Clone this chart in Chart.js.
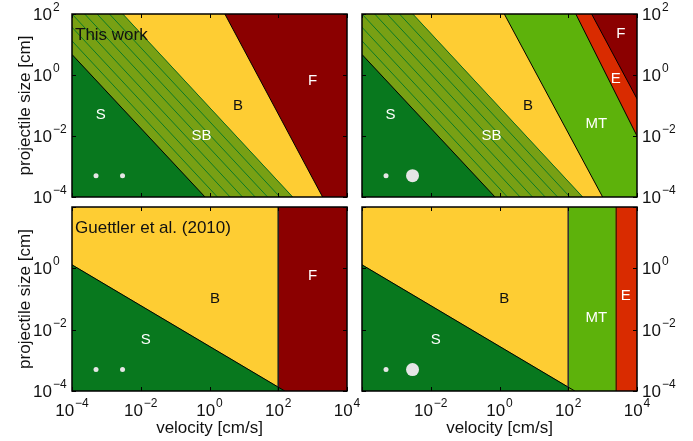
<!DOCTYPE html>
<html>
<head>
<meta charset="utf-8">
<script src="https://cdn.jsdelivr.net/npm/chart.js@4/dist/chart.umd.min.js"></script>
<style>
  html, body { margin: 0; padding: 0; background: #fff; }
  #wrap { position: relative; width: 693px; height: 441px; }
  #wrap canvas { position: absolute; left: 0; top: 0; }
</style>
</head>
<body>
<div id="wrap">
  <canvas id="tl" width="693" height="441"></canvas>
  <canvas id="tr" width="693" height="441"></canvas>
  <canvas id="bl" width="693" height="441"></canvas>
  <canvas id="br" width="693" height="441"></canvas>
</div>
<script>
// axis ranges and tick exponents
const xRange = [1e-4, 1e4];
const yRange = [1e-4, 1e2];
const xTickExp = [-4, -2, 0, 2, 4];
const yTickExp = [-4, -2, 0, 2];

// "This work" boundaries, end points [velocity, size]
const twS = [[1e-4, 4.7], [0.74, 1e-4]];
const twSB = [[3.0e-3, 1e2], [263, 1e-4]];
const twBF = [[2.8, 1e2], [1950, 1e-4]];
const twBMT = [[1.38, 1e2], [1000, 1e-4]];
const twMTE = [[166, 1e2], [1e4, 1e-2]];
const twEF = [[479, 1e2], [1e4, 0.166]];
// hatch lines inside SB: velocity where they cross size = 1e2 and size = 1e-4
const hatchTop = [1.86e-5, 4.37e-5, 1e-4, 2.34e-4, 5.37e-4, 1.23e-3];
const hatchBottom = [1.7, 3.98, 9.12, 21.4, 49, 112];

// Guettler et al. (2010) boundaries
const gS = [[1e-4, 1.3], [155, 1e-4]];
const gBF = 100;
const gMT = 100;
const gE = 2500;

// projectile markers
const dotX = [5e-4, 2.95e-3];
const dotY = [5e-4, 5e-4];
const dotSmall = [2.5, 2.5];
const dotBig = [2.5, 6.5];

// region labels [text, velocity, size]
const tlLabels = [['S', 6.9e-4, 0.05], ['SB', 0.59, 9.8e-3], ['B', 6.8, 0.1], ['F', 1000, 0.65]];
const trLabels = [['S', 6.8e-4, 0.05], ['SB', 0.59, 0.01], ['B', 6.8, 0.1], ['MT', 660, 0.025], ['E', 2400, 0.76], ['F', 3400, 22]];
const blLabels = [['S', 0.014, 4.7e-3], ['B', 1.45, 0.1], ['F', 1000, 0.58]];
const brLabels = [['S', 0.014, 4.7e-3], ['B', 1.38, 0.1], ['MT', 660, 0.025], ['E', 4700, 0.13]];

const cS = '#08781e', cSB = '#78a014', cB = '#fecd33', cF = '#8b0000',
      cMT = '#5db20b', cE = '#d92b00', cHatch = '#0c7a26';
const FONT = '"Liberation Sans", Arial, Helvetica, sans-serif';

function pts(arr) { return arr.map(p => ({x: p[0], y: p[1]})); }
function poly(arr, color) {
  return {data: pts(arr), showLine: true, fill: 'shape', backgroundColor: color,
          borderColor: color, borderWidth: 0.5, pointRadius: 0};
}
function seg(arr, color, w) {
  return {data: pts(arr), showLine: true, fill: false, borderColor: color,
          borderWidth: w || 1, pointRadius: 0};
}
function dots(radii) {
  return {data: dotX.map((x, i) => ({x: x, y: dotY[i]})), showLine: false,
          pointRadius: radii, pointBackgroundColor: '#e6e6e6', pointBorderWidth: 0};
}
const X0 = xRange[0], X1 = xRange[1], Y0 = yRange[0], Y1 = yRange[1];
const full = [[X0, Y1], [X1, Y1], [X1, Y0], [X0, Y0]];

function thisWorkBase() {
  return [
    poly([[X0, Y1], twSB[0], twSB[1], twS[1], twS[0]], cSB),
    ...hatchTop.map((t, i) => seg([[t, Y1], [hatchBottom[i], Y0]], cHatch, 1)),
    poly([twS[0], twS[1], [X0, Y0]], cS),
    seg(twS, '#000', 1),
    seg(twSB, '#0a6a20', 1)
  ];
}

const tlSets = [
  poly(full, cB),
  poly([twBF[0], [X1, Y1], [X1, Y0], twBF[1]], cF),
  ...thisWorkBase(),
  seg(twBF, '#000', 1),
  dots(dotSmall)
];
const trSets = [
  poly(full, cB),
  poly([twBMT[0], [X1, Y1], [X1, Y0], twBMT[1]], cMT),
  poly([twMTE[0], [X1, Y1], twMTE[1]], cE),
  poly([twEF[0], [X1, Y1], twEF[1]], cF),
  ...thisWorkBase(),
  seg(twBMT, '#000', 1),
  seg(twMTE, '#000', 1),
  seg(twEF, '#000', 1),
  dots(dotBig)
];
const blSets = [
  poly(full, cB),
  poly([[gBF, Y1], [X1, Y1], [X1, Y0], [gBF, Y0]], cF),
  poly([gS[0], gS[1], [X0, Y0]], cS),
  seg(gS, '#000', 1),
  seg([[gBF, Y1], [gBF, Y0]], '#222', 1),
  dots(dotSmall)
];
const brSets = [
  poly(full, cB),
  poly([gS[0], gS[1], [X0, Y0]], cS),
  poly([[gMT, Y1], [gE, Y1], [gE, Y0], [gMT, Y0]], cMT),
  poly([[gE, Y1], [X1, Y1], [X1, Y0], [gE, Y0]], cE),
  seg(gS, '#000', 1),
  seg([[gMT, Y1], [gMT, Y0]], '#333', 1),
  seg([[gE, Y1], [gE, Y0]], '#5a1a00', 1),
  dots(dotBig)
];

// "10" with a raised exponent
function drawPow(ctx, e, x, y, align) {
  const base = '10', sup = e < 0 ? '\u2212' + (-e) : String(e);
  ctx.font = '17px ' + FONT;
  const wb = ctx.measureText(base).width;
  ctx.font = '12px ' + FONT;
  const ws = ctx.measureText(sup).width;
  let x0 = x;
  if (align === 'center') x0 = x - (wb + ws + 1) / 2;
  else if (align === 'baseRight') x0 = x - wb;
  ctx.textAlign = 'left';
  ctx.textBaseline = 'alphabetic';
  ctx.font = '17px ' + FONT;
  ctx.fillText(base, x0, y);
  ctx.font = '12px ' + FONT;
  ctx.fillText(sup, x0 + wb + 1, y - 9);
}

const panelDeco = {
  id: 'panelDeco',
  afterDraw(chart, args, o) {
    const {ctx, chartArea: a} = chart;
    const sx = chart.scales.x, sy = chart.scales.y;
    ctx.save();
    // region labels
    ctx.font = '15px ' + FONT;
    ctx.textAlign = 'center';
    ctx.textBaseline = 'middle';
    o.labels.forEach(l => {
      ctx.fillStyle = l[0] === 'B' ? '#111' : '#fff';
      ctx.fillText(l[0], sx.getPixelForValue(l[1]), sy.getPixelForValue(l[2]));
    });
    if (o.title) {
      ctx.fillStyle = '#111';
      ctx.font = '17px ' + FONT;
      ctx.textAlign = 'left';
      ctx.fillText(o.title, a.left + 3, a.top + 21);
    }
    // frame and inward ticks
    ctx.strokeStyle = '#000';
    ctx.lineWidth = 1.5;
    ctx.strokeRect(a.left, a.top, a.right - a.left, a.bottom - a.top);
    ctx.lineWidth = 1;
    xTickExp.forEach(e => {
      const px = Math.round(sx.getPixelForValue(Math.pow(10, e))) + 0.5;
      ctx.beginPath();
      ctx.moveTo(px, a.bottom); ctx.lineTo(px, a.bottom - 4);
      ctx.moveTo(px, a.top); ctx.lineTo(px, a.top + 4);
      ctx.stroke();
    });
    yTickExp.forEach(e => {
      const py = Math.round(sy.getPixelForValue(Math.pow(10, e))) + 0.5;
      ctx.beginPath();
      ctx.moveTo(a.left, py); ctx.lineTo(a.left + 4, py);
      ctx.moveTo(a.right, py); ctx.lineTo(a.right - 4, py);
      ctx.stroke();
    });
    // tick labels
    ctx.fillStyle = '#111';
    o.xLabels.forEach(e => drawPow(ctx, e, sx.getPixelForValue(Math.pow(10, e)), a.bottom + 25, 'center'));
    o.yLabels.forEach(e => {
      const py = sy.getPixelForValue(Math.pow(10, e)) + 6;
      if (o.ySide === 'left') drawPow(ctx, e, a.left - 20, py, 'baseRight');
      else drawPow(ctx, e, a.right + 5, py, 'left');
    });
    // axis titles
    ctx.font = '17px ' + FONT;
    ctx.textAlign = 'center';
    ctx.textBaseline = 'middle';
    if (o.yTitle) {
      ctx.save();
      ctx.translate(25, (a.top + a.bottom) / 2);
      ctx.rotate(-Math.PI / 2);
      ctx.fillText('projectile size [cm]', 0, 0);
      ctx.restore();
    }
    if (o.xTitle) ctx.fillText('velocity [cm/s]', (a.left + a.right) / 2, a.bottom + 37);
    ctx.restore();
  }
};

function makePanel(id, sets, pad, deco) {
  return new Chart(document.getElementById(id), {
    type: 'scatter',
    data: {datasets: sets.slice().reverse()},
    options: {
      responsive: false,
      animation: false,
      layout: {padding: pad},
      scales: {
        x: {type: 'logarithmic', min: X0, max: X1, display: false},
        y: {type: 'logarithmic', min: Y0, max: Y1, display: false}
      },
      plugins: {legend: {display: false}, tooltip: {enabled: false}, panelDeco: deco}
    },
    plugins: [panelDeco]
  });
}

makePanel('tl', tlSets, {left: 72, top: 14, right: 346, bottom: 244},
  {labels: tlLabels, title: 'This work', xLabels: [], yLabels: [-4, -2, 0, 2], ySide: 'left', yTitle: true});
makePanel('tr', trSets, {left: 362, top: 14, right: 56, bottom: 244},
  {labels: trLabels, xLabels: [], yLabels: [-4, -2, 0, 2], ySide: 'right'});
makePanel('bl', blSets, {left: 72, top: 207, right: 346, bottom: 50},
  {labels: blLabels, title: 'Guettler et al. (2010)', xLabels: [-4, -2, 0, 2, 4], yLabels: [-4, -2, 0], ySide: 'left', yTitle: true, xTitle: true});
makePanel('br', brSets, {left: 362, top: 207, right: 56, bottom: 50},
  {labels: brLabels, xLabels: [-2, 0, 2, 4], yLabels: [-4, -2, 0], ySide: 'right', xTitle: true});
</script>
</body>
</html>
